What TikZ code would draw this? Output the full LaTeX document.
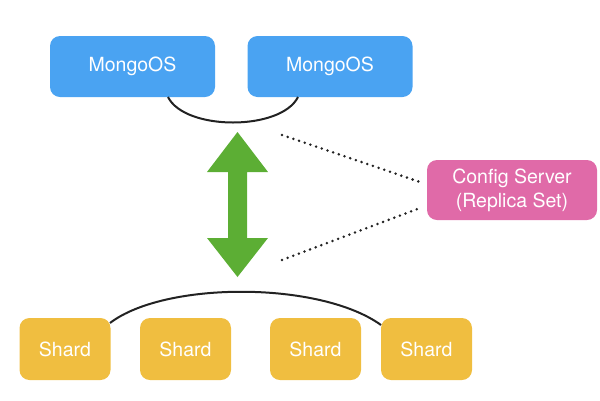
\documentclass[tikz,border=0pt]{standalone}
\usepackage{fontspec}
\setmainfont{TeX Gyre Heros}
\definecolor{mblue}{HTML}{4AA3F2}
\definecolor{mpink}{HTML}{E06AA8}
\definecolor{myellow}{HTML}{F0BE40}
\definecolor{mgreen}{HTML}{5CAE34}
\definecolor{mline}{HTML}{222222}
\begin{document}
\begin{tikzpicture}[x=1pt,y=-1pt,
  box/.style={rounded corners=10pt, text=white, font=\fontsize{19.5}{24}\selectfont, inner sep=0pt, align=center},
  mongo/.style={box, fill=mblue, minimum width=165pt, minimum height=61pt},
  shard/.style={box, fill=myellow, minimum width=91pt, minimum height=62pt},
  cfg/.style={box, fill=mpink, minimum width=170pt, minimum height=60pt},
  arc/.style={draw=mline, line width=2pt},
  dots/.style={draw=mline, line width=2.8pt, line cap=round, dash pattern=on 0pt off 6pt}]
\useasboundingbox (0,0) rectangle (600,400);
\node[mongo] (m1) at (132.5,66.5) {MongoOS};
\node[mongo] (m2) at (330,66.5) {MongoOS};
\node[cfg] (cfg) at (512,190) {Config Server\\(Replica Set)};
\node[shard] (s1) at (65,349) {Shard};
\node[shard] (s2) at (185.5,349) {Shard};
\node[shard] (s3) at (315.5,349) {Shard};
\node[shard] (s4) at (426.5,349) {Shard};
% top arc
\coordinate (t1) at (168,97);
\coordinate (t2) at (298,97);
\draw[arc] (t1) .. controls (185,131) and (281,131) .. (t2);
% bottom arc
\coordinate (b1) at (110,323);
\coordinate (b2) at (381,325);
\draw[arc] (b1) .. controls (165,281) and (320,281) .. (b2);
% green double arrow
\fill[mgreen] (237.5,132) -- (268,172) -- (247,172) -- (247,238) -- (268,238) -- (237.5,277)
  -- (207,238) -- (228,238) -- (228,172) -- (207,172) -- cycle;
% dotted lines
\coordinate (d1) at (282,135);
\coordinate (d2) at (282,260);
\coordinate (c1) at (420,182);
\coordinate (c2) at (420,208);
\draw[dots] (d1) -- (c1);
\draw[dots] (d2) -- (c2);
\end{tikzpicture}
\end{document}
